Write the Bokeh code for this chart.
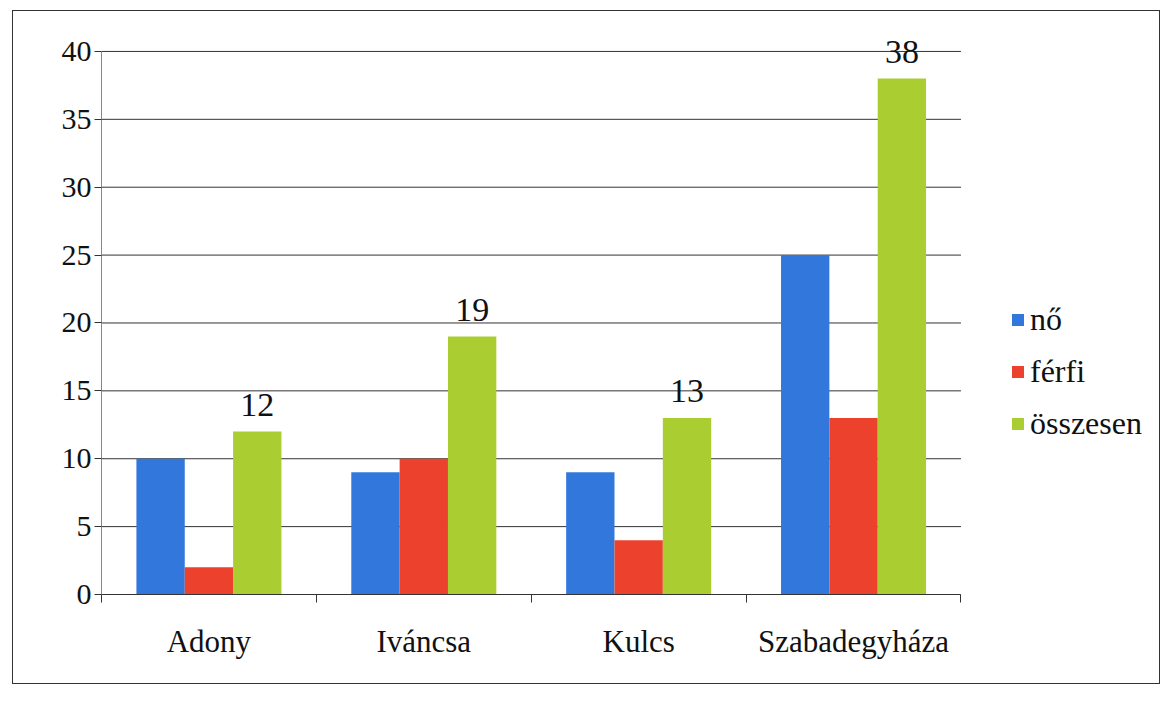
from bokeh.plotting import figure
from bokeh.models import (Range1d, LinearAxis, FixedTicker, Legend, LegendItem, LabelSet,
                          ColumnDataSource)
from bokeh.transform import dodge
from bokeh.embed import file_html
from bokeh.resources import INLINE

# ---- data ----
categories = ["Adony", "Iváncsa", "Kulcs", "Szabadegyháza"]
no = [10, 9, 9, 25]
ferfi = [2, 10, 4, 13]
osszesen = [12, 19, 13, 38]
series_names = ["nő", "férfi", "összesen"]
y_ticks = [0, 5, 10, 15, 20, 25, 30, 35, 40]

BLUE = "#3278dc"
RED = "#eb412d"
GREEN = "#aacd32"
FONT = "Liberation Serif"

n = len(categories)
centers = [i + 0.5 for i in range(n)]
boundaries = list(range(n + 1))
w = 0.225
X_END = n + 0.91    # extra room on the right for the legend
Y_END = 42.5        # headroom so the top data label is not clipped

src = ColumnDataSource(dict(xc=centers, no=no, ferfi=ferfi, osszesen=osszesen,
                            lbl=[str(v) for v in osszesen]))
grid_src = ColumnDataSource(dict(y=y_ticks, x0=[0] * len(y_ticks), x1=[n] * len(y_ticks)))

p = figure(x_range=Range1d(0, X_END), y_range=Range1d(0, Y_END),
           width=1148, height=674, output_backend="svg", toolbar_location=None,
           x_axis_location=None, min_border_left=88, min_border_right=5,
           min_border_top=6, min_border_bottom=91)
p.margin = (10, 0, 0, 12)
p.outline_line_color = None
p.background_fill_color = "white"
p.border_fill_color = "white"
p.styles = {"border": "1px solid #333"}

# y axis
p.yaxis.ticker = FixedTicker(ticks=y_ticks)
p.yaxis.bounds = (0, 40)
p.yaxis.major_label_text_font = FONT
p.yaxis.major_label_text_font_size = "30px"
p.yaxis.major_label_text_color = "#111"
p.yaxis.axis_line_color = "#888"
p.yaxis.major_tick_line_color = "#333"
p.yaxis.major_tick_out = 7
p.yaxis.major_tick_in = 0
p.yaxis.minor_tick_line_color = None
p.yaxis.major_label_standoff = 3
p.ygrid.grid_line_color = None
p.xgrid.grid_line_color = None

# horizontal gridlines only across the category area
p.segment(x0="x0", x1="x1", y0="y", y1="y", source=grid_src, line_color="#333", line_width=1)

# x axis: category labels at centres, boundary ticks as minor ticks
cat_axis = LinearAxis(ticker=FixedTicker(ticks=centers, minor_ticks=boundaries),
                      major_label_overrides={c: name for c, name in zip(centers, categories)},
                      bounds=(0, n),
                      axis_line_color="#333", major_tick_line_color=None,
                      minor_tick_line_color="#333", minor_tick_out=8, minor_tick_in=0,
                      major_tick_out=0, major_tick_in=0,
                      major_label_text_font=FONT, major_label_text_font_size="31px",
                      major_label_text_color="#111", major_label_standoff=21)
p.add_layout(cat_axis, "below")

r1 = p.vbar(x=dodge("xc", -w), top="no", width=w, source=src, fill_color=BLUE, line_color=None)
r2 = p.vbar(x="xc", top="ferfi", width=w, source=src, fill_color=RED, line_color=None)
r3 = p.vbar(x=dodge("xc", w), top="osszesen", width=w, source=src,
            fill_color=GREEN, line_color=None)

labels = LabelSet(x=dodge("xc", w), y="osszesen", text="lbl", source=src,
                  text_align="center", text_baseline="alphabetic", y_offset=16,
                  text_font=FONT, text_font_size="34px", text_color="#111")
p.add_layout(labels)

legend = Legend(items=[LegendItem(label=series_names[0], renderers=[r1]),
                       LegendItem(label=series_names[1], renderers=[r2]),
                       LegendItem(label=series_names[2], renderers=[r3])],
                location=(909, 152), padding=0, margin=0, spacing=15,
                glyph_width=15, glyph_height=15, label_standoff=5,
                label_text_font=FONT, label_text_font_size="32px",
                label_text_color="#111", border_line_color=None,
                background_fill_alpha=0)
p.add_layout(legend)

open("out.html", "w").write(file_html(p, INLINE))
